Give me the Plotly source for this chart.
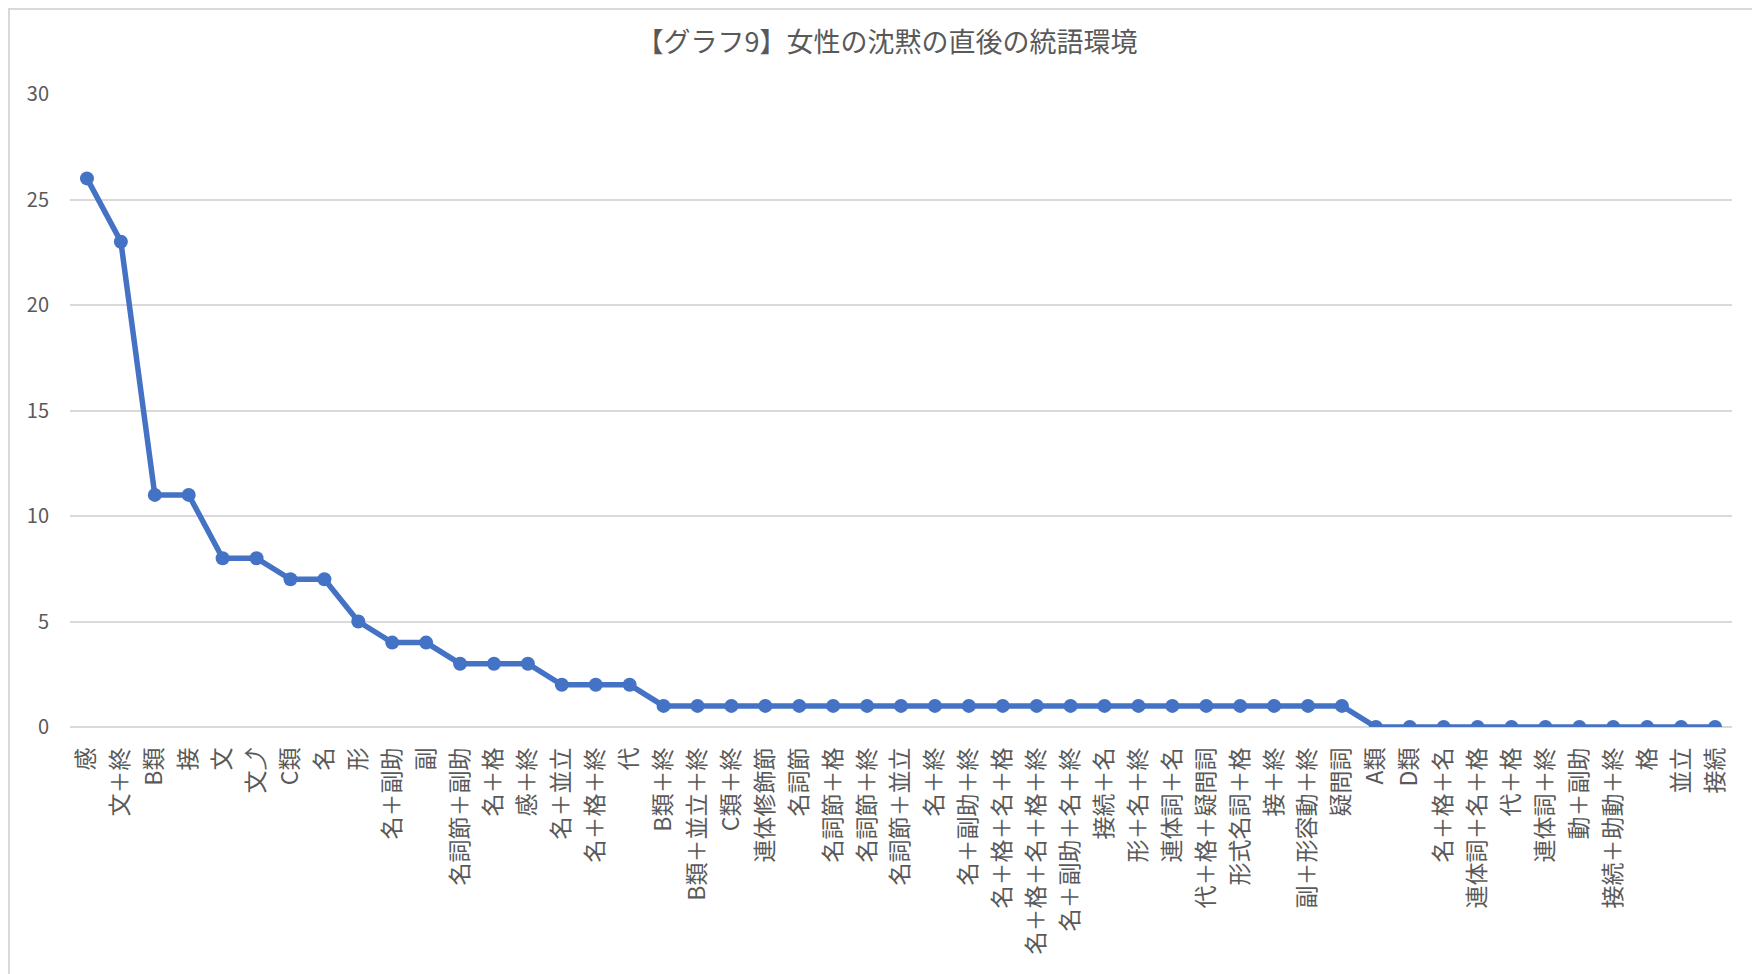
import plotly.graph_objects as go

categories = [
    "感", "文＋終", "B類", "接", "文", "文⤴", "C類", "名", "形", "名＋副助",
    "副", "名詞節＋副助", "名＋格", "感＋終", "名＋並立", "名＋格＋終", "代",
    "B類＋終", "B類＋並立＋終", "C類＋終", "連体修飾節", "名詞節", "名詞節＋格",
    "名詞節＋終", "名詞節＋並立", "名＋終", "名＋副助＋終", "名＋格＋名＋格",
    "名＋格＋名＋格＋終", "名＋副助＋名＋終", "接続＋名", "形＋名＋終", "連体詞＋名",
    "代＋格＋疑問詞", "形式名詞＋格", "接＋終", "副＋形容動＋終", "疑問詞",
    "A類", "D類", "名＋格＋名", "連体詞＋名＋格", "代＋格", "連体詞＋終",
    "動＋副助", "接続＋助動＋終", "格", "並立", "接続",
]
values = [
    26, 23, 11, 11, 8, 8, 7, 7, 5, 4,
    4, 3, 3, 3, 2, 2, 2,
    1, 1, 1, 1, 1, 1,
    1, 1, 1, 1, 1,
    1, 1, 1, 1, 1,
    1, 1, 1, 1, 1,
    0, 0, 0, 0, 0, 0,
    0, 0, 0, 0, 0,
]
y_ticks = [0, 5, 10, 15, 20, 25, 30]
title_text = "【グラフ9】女性の沈黙の直後の統語環境"

# page has an 8px body margin, so the figure is drawn offset by 8px
OFF = 8
W, H = 1760 - OFF, 974 - OFF
ML, MT = 70 - OFF, 94 - OFF
MR = W - (1732 - OFF)
MB = H - (727 - OFF)
pw, ph = W - ML - MR, H - MT - MB

font_jp = "Noto Sans CJK JP, Noto Sans, DejaVu Sans, sans-serif"
grey = "#595959"

fig = go.Figure()
fig.add_trace(go.Scatter(
    x=list(range(len(categories))),
    y=values,
    mode="lines+markers",
    line=dict(color="#4472C4", width=5.5),
    marker=dict(color="#4472C4", size=14),
    showlegend=False,
    hoverinfo="skip",
))

# chart-area border (page coords converted to paper coords)
def px_to_paper_x(px):
    return (px - OFF - ML) / pw

def py_to_paper_y(py):
    return (H - MB - (py - OFF)) / ph

fig.add_shape(
    type="rect", xref="paper", yref="paper",
    x0=px_to_paper_x(9), x1=px_to_paper_x(1758),
    y0=py_to_paper_y(1000), y1=py_to_paper_y(9),
    line=dict(color="#d9d9d9", width=2), fillcolor="rgba(0,0,0,0)",
    layer="above",
)

fig.update_layout(
    width=W, height=H,
    margin=dict(l=ML, r=MR, t=MT, b=MB),
    paper_bgcolor="white", plot_bgcolor="white",
    title=dict(text=title_text, x=(887 - OFF) / W, xref="container", xanchor="center",
               y=1 - (43 - OFF) / H, yanchor="middle",
               font=dict(family=font_jp, size=27, color=grey)),
    xaxis=dict(
        range=[-0.5, len(categories) - 0.5],
        tickmode="array",
        tickvals=list(range(len(categories))),
        ticktext=categories,
        tickangle=-90,
        tickfont=dict(family=font_jp, size=23, color=grey),
        showgrid=False, zeroline=False, showline=False,
        ticks="", ticklabelstandoff=15,
    ),
    yaxis=dict(
        range=[0, 30],
        tickmode="array",
        tickvals=y_ticks,
        tickfont=dict(family=font_jp, size=20, color=grey),
        showgrid=True, gridcolor="#d9d9d9", gridwidth=2,
        zeroline=True, zerolinecolor="#d9d9d9", zerolinewidth=2,
        showline=False, ticks="", ticklabelstandoff=20,
    ),
)

fig.write_html("out.html")
